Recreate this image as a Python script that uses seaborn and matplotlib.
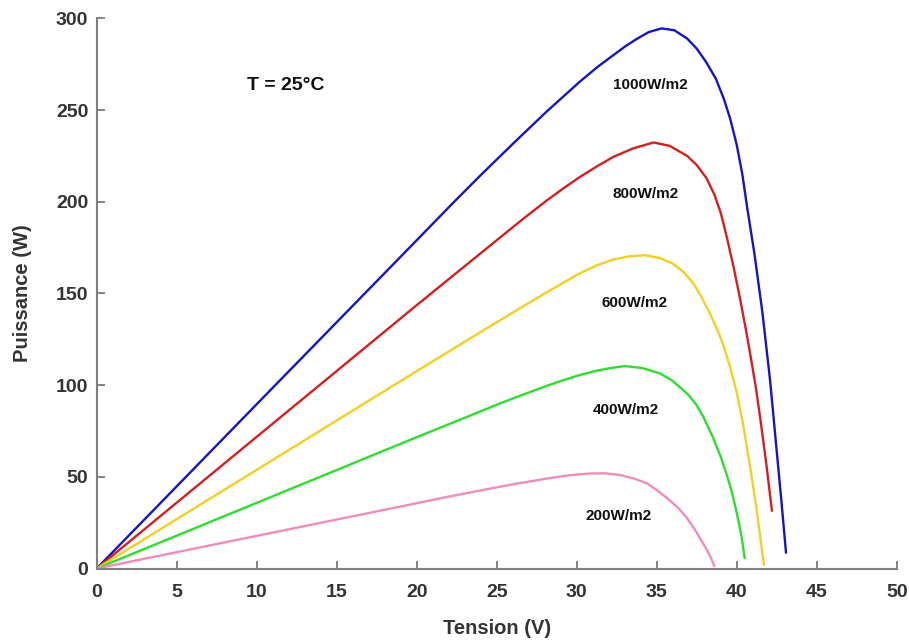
import matplotlib
matplotlib.use("Agg")
import matplotlib.pyplot as plt
import seaborn as sns
import pandas as pd

# Data (Tension V, Puissance W)
v_1000 = [0, 10, 20, 22.4, 24, 26, 28.1, 30.2, 31.3, 32.3, 33.0, 33.7, 34.5, 35.3, 36.1, 36.9, 37.5, 38.1,
          38.7, 39.2, 39.6, 40.0, 40.35, 40.65, 41.1, 41.6, 42.08, 42.5, 42.8, 43.08]
p_1000 = [0, 89.6, 179, 200.5, 214.5, 231.5, 249, 265.5, 273.5, 280, 284.5, 288.5, 292.5, 294.5, 293.5, 289, 283.5, 276,
          267, 256, 245, 231, 215, 197, 172, 140, 103, 64, 36, 8.6]

v_800 = [0, 10, 20, 25, 26.7, 28.1, 29.2, 30.2, 31.3, 32.3, 33.5, 34.8, 35.8, 36.9, 37.5, 38.1, 38.6, 39.0,
         39.4, 39.8, 40.2, 40.6, 40.9, 41.2, 41.5, 41.85, 42.2]
p_800 = [0, 71.8, 143.6, 179, 191, 200.5, 207.5, 213.5, 219.5, 224.5, 229, 232.3, 230.5, 225, 220, 213, 204, 194,
         180, 164.5, 147.5, 129, 114, 98.5, 80, 57, 31.5]

v_600 = [0, 10, 20, 22, 24, 26, 28.1, 30.2, 31.3, 32.3, 33.3, 34.3, 35.2, 36.0, 36.7, 37.3, 37.8,
         38.3, 38.8, 39.2, 39.6, 40.0, 40.4, 40.8, 41.2, 41.7]
p_600 = [0, 53.8, 107.6, 118.3, 129, 139.5, 150.5, 161, 165.5, 168.5, 170.3, 170.8, 169.3, 166.3, 161.5, 155.4, 148,
         139.5, 130, 121, 109.5, 96, 78.5, 57.5, 35, 2]

v_400 = [0, 10, 20, 22.5, 25.2, 26.7, 28.1, 29.2, 30.2, 31.2, 32.1, 33.0, 34.1, 35.2, 35.9, 36.5, 37.0, 37.5,
         37.9, 38.5, 39.0, 39.4, 39.7, 40.0, 40.3, 40.5]
p_400 = [0, 35.8, 71.6, 80.4, 90, 95, 99.5, 102.8, 105.5, 107.8, 109.3, 110.4, 109.3, 106.4, 102.9, 98.5, 94.5, 89,
         83, 71.8, 61, 50.5, 41.5, 30.5, 17.5, 5.6]

v_200 = [0, 10, 20, 22, 24, 26, 28.1, 29.5, 30.8, 31.8, 32.7, 33.6, 34.4, 35.1, 35.8, 36.4, 36.9, 37.4,
         37.9, 38.3, 38.6]
p_200 = [0, 17.8, 35.6, 39.2, 42.6, 45.9, 49.0, 50.8, 51.8, 51.9, 51, 49, 46.4, 42.2, 37.3, 32.5, 27.4, 21,
         13.7, 7.5, 1.4]

series_names = ["1000W/m2", "800W/m2", "600W/m2", "400W/m2", "200W/m2"]
series_v = [v_1000, v_800, v_600, v_400, v_200]
series_p = [p_1000, p_800, p_600, p_400, p_200]
label_v = [34.6, 34.3, 33.6, 33.1, 32.6]
label_p = [263.5, 204, 145, 86.4, 28.6]
colors = ["#1414C4", "#D61E1E", "#F2CF20", "#2EDE2E", "#F08CBC"]

x_ticks = list(range(0, 51, 5))
y_ticks = list(range(0, 301, 50))

rows = []
for name, vs, ps in zip(series_names, series_v, series_p):
    for i, (v, p) in enumerate(zip(vs, ps)):
        rows.append({"Tension": v, "Puissance": p, "Irradiance": name, "order": i})
df = pd.DataFrame(rows)

sns.set_theme(style="white")
plt.rcParams["font.family"] = ["Liberation Sans", "DejaVu Sans"]

fig = plt.figure(figsize=(9.09, 6.41), dpi=100)
ax = fig.add_axes([0.1064, 0.1131, 0.8801, 0.8583])

sns.lineplot(data=df, x="Tension", y="Puissance", hue="Irradiance",
             hue_order=series_names, palette=colors, sort=False,
             estimator=None, linewidth=1.7, legend=False, ax=ax)

for name, lv, lp in zip(series_names, label_v, label_p):
    ax.text(lv, lp, name, ha="center", va="center", fontsize=11,
            fontweight="bold", color="#111111")
ax.text(11.8, 263.5, "T = 25°C", ha="center", va="center", fontsize=14,
        fontweight="bold", color="#111111")

ax.set_xlim(0, 50)
ax.set_ylim(0, 300)
ax.set_xticks(x_ticks)
ax.set_yticks(y_ticks)
ax.set_xticklabels([str(t) for t in x_ticks], fontsize=14, fontweight="bold", color="#333333")
ax.set_yticklabels([str(t) for t in y_ticks], fontsize=14, fontweight="bold", color="#333333")
ax.tick_params(direction="in", length=6, width=1.2, color="#707070",
               bottom=True, left=True, top=False, right=False)
ax.tick_params(axis="x", pad=11)
ax.tick_params(axis="y", pad=6)
ax.set_xlabel("Tension (V)", fontsize=14.5, fontweight="bold", color="#333333", labelpad=13)
ax.set_ylabel("Puissance (W)", fontsize=14.5, fontweight="bold", color="#333333", labelpad=17)

for s in ["top", "right"]:
    ax.spines[s].set_visible(False)
for s in ["left", "bottom"]:
    ax.spines[s].set_color("#808080")
    ax.spines[s].set_linewidth(1.5)

fig.savefig("out.png", dpi=100, facecolor="white")
